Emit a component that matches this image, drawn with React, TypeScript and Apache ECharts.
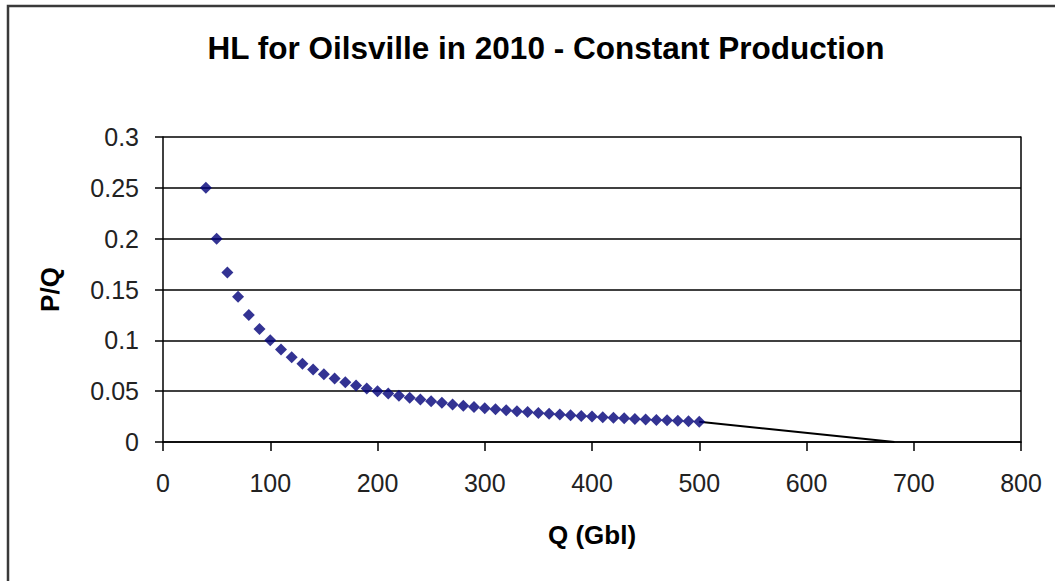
import React, { useEffect, useRef } from "react";
import * as echarts from "echarts";

const TITLE = "HL for Oilsville in 2010 - Constant Production";
const X_NAME = "Q (Gbl)";
const Y_NAME = "P/Q";

const cumulativeQ = [
  40, 50, 60, 70, 80, 90, 100, 110, 120, 130, 140, 150, 160, 170, 180, 190,
  200, 210, 220, 230, 240, 250, 260, 270, 280, 290, 300, 310, 320, 330, 340,
  350, 360, 370, 380, 390, 400, 410, 420, 430, 440, 450, 460, 470, 480, 490, 500,
];
const ratioPQ = [
  0.25, 0.2, 0.1667, 0.1429, 0.125, 0.1111, 0.1, 0.0909, 0.0833, 0.0769,
  0.0714, 0.0667, 0.0625, 0.0588, 0.0556, 0.0526, 0.05, 0.0476, 0.0455,
  0.0435, 0.0417, 0.04, 0.0385, 0.037, 0.0357, 0.0345, 0.0333, 0.0323,
  0.0313, 0.0303, 0.0294, 0.0286, 0.0278, 0.027, 0.0263, 0.0256, 0.025,
  0.0244, 0.0238, 0.0233, 0.0227, 0.0222, 0.0217, 0.0213, 0.0208, 0.0204, 0.02,
];
const fitQ = [500, 682];
const fitPQ = [0.02, 0];

const FONT = '"Liberation Sans", Arial, sans-serif';

export default function App() {
  const ref = useRef<HTMLDivElement>(null);
  useEffect(() => {
    if (!ref.current) return;
    const chart = echarts.init(ref.current, undefined, { renderer: "svg" });
    chart.setOption({
      animation: false,
      backgroundColor: "#ffffff",
      title: {
        text: TITLE,
        left: 541,
        top: 27,
        textAlign: "center",
        textStyle: { fontFamily: FONT, fontSize: 31.5, fontWeight: "bold", color: "#000" },
      },
      graphic: [
        {
          type: "rect",
          shape: { x: 8, y: 6, width: 1200, height: 800 },
          style: { fill: "none", stroke: "#3a3a3a", lineWidth: 2.5 },
          silent: true,
        },
      ],
      grid: { left: 163, right: 34, top: 137, bottom: 139, containLabel: false },
      xAxis: {
        type: "value",
        min: 0,
        max: 800,
        interval: 100,
        name: X_NAME,
        nameLocation: "middle",
        nameGap: 80,
        nameTextStyle: { fontFamily: FONT, fontSize: 26, fontWeight: "bold", color: "#000" },
        axisLine: { show: true, onZero: false, lineStyle: { color: "#000", width: 1.5 } },
        axisTick: { show: true, inside: false, length: 9, lineStyle: { color: "#000", width: 1.5 } },
        axisLabel: { fontFamily: FONT, fontSize: 25, color: "#222", margin: 28 },
        splitLine: { show: false },
      },
      yAxis: [
        {
          type: "value",
          min: 0,
          max: 0.3,
          interval: 0.05,
          name: Y_NAME,
          nameLocation: "middle",
          nameGap: 100,
          nameRotate: 90,
          nameTextStyle: { fontFamily: FONT, fontSize: 26, fontWeight: "bold", color: "#000" },
          axisLine: { show: true, lineStyle: { color: "#000", width: 1.5 } },
          axisTick: { show: true, inside: false, length: 8, lineStyle: { color: "#000", width: 1.5 } },
          axisLabel: { fontFamily: FONT, fontSize: 25, color: "#222", margin: 24 },
          splitLine: { show: true, lineStyle: { color: "#000", width: 1.5 } },
        },
        {
          type: "value",
          min: 0,
          max: 0.3,
          interval: 0.05,
          position: "right",
          axisLine: { show: true, lineStyle: { color: "#000", width: 1.5 } },
          axisTick: { show: false },
          axisLabel: { show: false },
          splitLine: { show: false },
        },
      ],
      series: [
        {
          type: "line",
          data: fitQ.map((q, i) => [q, fitPQ[i]]),
          showSymbol: false,
          symbol: "none",
          lineStyle: { color: "#000", width: 2 },
          z: 1,
        },
        {
          type: "scatter",
          data: cumulativeQ.map((q, i) => [q, ratioPQ[i]]),
          symbol: "diamond",
          symbolSize: 12,
          itemStyle: { color: "#000078" },
          z: 2,
        },
      ],
    });
    return () => chart.dispose();
  }, []);
  return (
    <div
      ref={ref}
      style={{ position: "fixed", left: 0, top: 0, width: 1055, height: 581 }}
    />
  );
}
